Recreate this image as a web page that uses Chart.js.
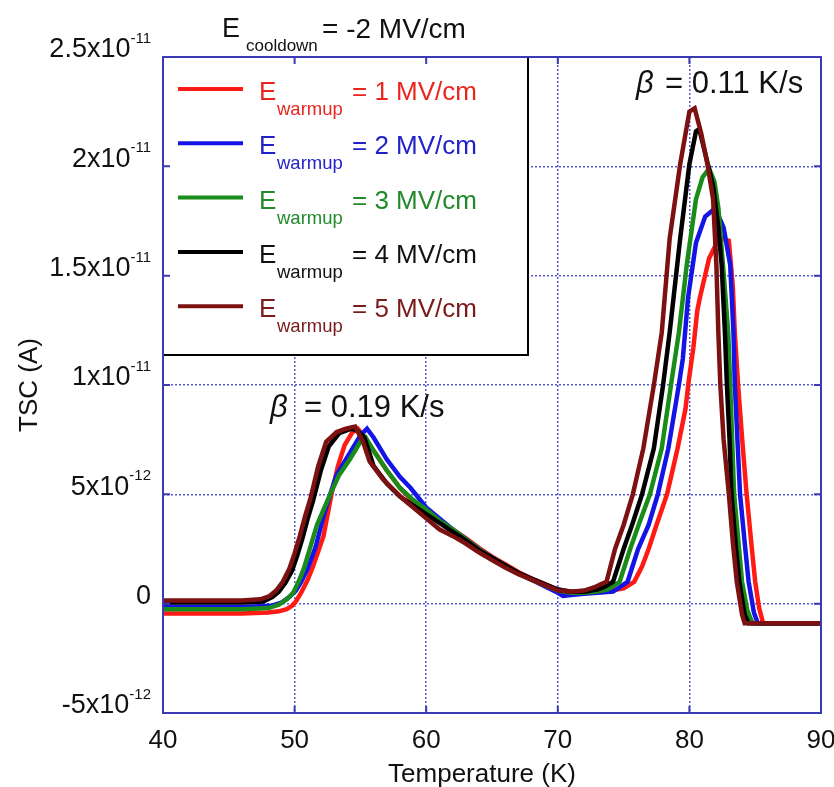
<!DOCTYPE html>
<html>
<head>
<meta charset="utf-8">
<script src="https://cdn.jsdelivr.net/npm/chart.js@4"></script>
<style>
  body { margin: 0; background: #fff; }
  canvas { display: block; }
</style>
</head>
<body>
<canvas id="tscChart" width="834" height="787"></canvas>
<script>
// TSC current in units of 1e-12 A, temperature in K
const temp1 = [40, 43, 46, 48.0, 48.8, 49.4, 49.8, 50.1, 50.5, 51.0, 51.4, 51.8, 52.2, 52.8, 53.3, 53.8, 54.4, 54.8, 55.2, 56.0, 57.0, 58.0, 58.8, 59.5, 60.0, 61.0, 62.0, 63, 64, 65, 66, 67, 68, 69, 70, 71, 72, 73, 74.0, 75.0, 75.8, 76.4, 76.9, 77.5, 78.3, 79.1, 79.7, 79.95, 80.3, 80.6, 80.8, 81.5, 82.0, 82.4, 83.0, 83.3, 83.45, 83.7, 84.0, 84.35, 84.7, 85.0, 85.3, 85.6, 86, 88, 90];
const tsc1  = [-0.45, -0.45, -0.45, -0.4, -0.35, -0.25, -0.1, 0.1, 0.5, 1.1, 1.7, 2.4, 3.1, 5.0, 6.3, 7.25, 7.85, 8.0, 7.7, 7.0, 6.1, 5.3, 4.8, 4.5, 4.25, 3.8, 3.4, 3.0, 2.55, 2.15, 1.8, 1.45, 1.15, 0.9, 0.65, 0.55, 0.5, 0.5, 0.6, 0.7, 1.0, 1.7, 2.5, 3.6, 5.0, 7.1, 8.9, 10.2, 11.7, 13.4, 14.0, 15.8, 16.4, 16.7, 16.6, 14.5, 12.4, 10.0, 7.6, 5.0, 2.8, 1.0, -0.2, -0.9, -0.9, -0.9, -0.9];

const temp2 = [40, 43, 46, 48.2, 49.0, 49.6, 50.1, 50.5, 51.0, 51.6, 52.2, 52.7, 53.2, 54.2, 55.0, 55.5, 56.0, 57.0, 58.0, 58.8, 60.0, 61.0, 62.0, 63, 64, 65, 66, 67, 68, 69, 70, 70.4, 71, 72, 73, 74.2, 75.3, 76.1, 76.9, 77.6, 78.4, 79.2, 79.5, 79.9, 80.5, 81.2, 81.8, 82.1, 82.6, 83.1, 83.35, 83.45, 83.85, 84.2, 84.5, 84.9, 85.2, 86, 88, 90];
const tsc2  = [-0.15, -0.15, -0.15, -0.1, 0.05, 0.3, 0.6, 1.0, 1.6, 2.6, 4.0, 5.0, 5.9, 6.9, 7.7, 8.0, 7.6, 6.6, 5.8, 5.3, 4.4, 3.9, 3.4, 2.95, 2.5, 2.1, 1.75, 1.4, 1.1, 0.8, 0.5, 0.35, 0.4, 0.45, 0.5, 0.55, 1.0, 2.5, 3.6, 5.0, 7.1, 10.0, 11.2, 14.0, 16.5, 17.7, 18.0, 17.9, 17.2, 15.5, 12.4, 10.0, 5.0, 2.8, 1.0, -0.4, -0.9, -0.9, -0.9, -0.9];

const temp3 = [40, 43, 46, 48.0, 48.8, 49.4, 49.9, 50.3, 50.7, 51.2, 51.7, 52.2, 52.7, 53.4, 54.2, 55.0, 55.4, 56.0, 57.0, 58.0, 59.0, 60.0, 61.0, 62.0, 63, 64, 65, 66, 67, 68, 69, 70, 71, 72, 73, 73.8, 74.7, 75.5, 76.2, 77.0, 77.9, 78.6, 78.9, 79.2, 79.8, 80.5, 81.0, 81.5, 81.9, 82.2, 82.55, 82.95, 83.1, 83.4, 83.7, 84.0, 84.4, 84.8, 86, 88, 90];
const tsc3  = [-0.25, -0.25, -0.25, -0.2, -0.05, 0.2, 0.5, 1.0, 1.6, 2.6, 3.6, 4.3, 5.0, 5.9, 6.6, 7.4, 7.6, 7.0, 6.1, 5.3, 4.75, 4.3, 3.8, 3.4, 2.95, 2.5, 2.1, 1.75, 1.4, 1.1, 0.85, 0.6, 0.5, 0.5, 0.55, 0.65, 1.0, 2.5, 3.7, 5.0, 7.1, 10.0, 11.2, 12.4, 15.5, 18.5, 19.5, 19.9, 19.3, 18.1, 15.5, 12.4, 10.0, 5.0, 3.0, 1.0, -0.3, -0.9, -0.9, -0.9, -0.9];

const temp4 = [40, 43, 46, 47.6, 48.3, 48.8, 49.3, 49.8, 50.2, 50.6, 51.0, 51.4, 52.0, 52.6, 53.4, 54.3, 54.8, 55.3, 56.0, 57.0, 58.0, 60.0, 62.0, 63, 64, 65, 66, 67, 68, 69, 70, 71, 72, 73.0, 73.5, 74.2, 75.0, 75.7, 76.4, 77.3, 78.0, 78.5, 79.3, 80.0, 80.5, 80.75, 81.2, 81.8, 82.2, 82.45, 82.7, 82.85, 83.05, 83.2, 83.5, 83.8, 84.2, 84.5, 86, 88, 90];
const tsc4  = [0.05, 0.05, 0.05, 0.1, 0.3, 0.55, 0.95, 1.5, 2.2, 3.0, 3.9, 4.7, 6.1, 7.2, 7.8, 8.0, 7.9, 7.6, 6.3, 5.5, 4.9, 4.1, 3.3, 2.9, 2.45, 2.1, 1.75, 1.4, 1.15, 0.9, 0.65, 0.55, 0.55, 0.65, 0.75, 1.0, 2.5, 3.7, 5.0, 7.1, 10.0, 12.4, 16.7, 20.1, 21.6, 21.7, 20.6, 19.1, 17.2, 15.5, 12.4, 10.0, 7.5, 5.0, 2.8, 1.0, -0.5, -0.9, -0.9, -0.9, -0.9];

const temp5 = [40, 43, 46, 47.4, 48.1, 48.6, 49.1, 49.6, 50.0, 50.4, 50.8, 51.2, 51.8, 52.4, 53.2, 53.9, 54.6, 55.2, 55.7, 56.7, 58.2, 60.0, 61.0, 62.0, 63.0, 64.0, 65.0, 66.0, 67.0, 68.0, 69.0, 70.0, 71.0, 72.0, 72.8, 73.3, 73.7, 74.35, 75.0, 75.7, 76.5, 77.3, 77.9, 78.5, 79.3, 80.0, 80.4, 80.9, 81.4, 81.8, 82.05, 82.2, 82.35, 82.6, 83.0, 83.3, 83.6, 84.0, 84.2, 86, 88, 90];
const tsc5  = [0.15, 0.15, 0.15, 0.2, 0.35, 0.6, 1.0, 1.6, 2.3, 3.1, 4.0, 4.8, 6.3, 7.4, 7.85, 8.0, 8.1, 7.4, 6.5, 5.7, 4.8, 3.9, 3.4, 3.1, 2.75, 2.35, 2.0, 1.65, 1.35, 1.1, 0.85, 0.6, 0.55, 0.6, 0.75, 0.9, 1.0, 2.5, 3.6, 5.0, 7.1, 10.0, 12.4, 16.7, 20.1, 22.5, 22.65, 21.5, 20.0, 18.5, 15.5, 12.4, 10.0, 7.5, 5.0, 2.8, 1.0, -0.5, -0.9, -0.9, -0.9, -0.9];

const warmupFields = ['1', '2', '3', '4', '5'];
const lineColors = ['#ff1a14', '#1414e6', '#1a8c1a', '#000000', '#7d1010'];
const textColors = ['#e8261e', '#2222c8', '#218a2a', '#111111', '#7a1a1a'];

const tempTicks = [40, 50, 60, 70, 80, 90];
const tscTicks = [-5, 0, 5, 10, 15, 20, 25];
const tscTickBase = ['-5x10', '0', '5x10', '1x10', '1.5x10', '2x10', '2.5x10'];
const tscTickExp = ['-12', '', '-12', '-11', '-11', '-11', '-11'];

const FONT = '"Liberation Sans", Arial, sans-serif';
const AXIS_BLUE = '#3a3ab4';

const allTemps = [temp1, temp2, temp3, temp4, temp5];
const allTsc = [tsc1, tsc2, tsc3, tsc4, tsc5];

const datasets = allTemps.map((temps, i) => ({
    label: 'E warmup = ' + warmupFields[i] + ' MV/cm',
    data: temps.map((t, j) => ({ x: t, y: allTsc[i][j] })),
    borderColor: lineColors[i],
    borderWidth: 4.5,
    pointRadius: 0,
    tension: 0,
    fill: false,
    order: 5 - i   // 5 MV/cm drawn on top
}));

function drawText(ctx, str, x, y, size, color, align, style) {
    ctx.font = (style || '') + ' ' + size + 'px ' + FONT;
    ctx.fillStyle = color;
    ctx.textAlign = align || 'left';
    ctx.textBaseline = 'middle';
    ctx.fillText(str, x, y);
}

const overlay = {
    id: 'overlay',
    afterDatasetsDraw(chart) {
        const ctx = chart.ctx;
        const area = chart.chartArea;
        // legend box
        const lx = area.left, ly = area.top, lw = 365, lh = 298;
        ctx.save();
        ctx.fillStyle = '#fff';
        ctx.fillRect(lx, ly, lw, lh);
        ctx.strokeStyle = '#000';
        ctx.lineWidth = 2;
        ctx.beginPath();
        ctx.moveTo(lx + lw, ly);
        ctx.lineTo(lx + lw, ly + lh);
        ctx.lineTo(lx, ly + lh);
        ctx.stroke();
        for (let i = 0; i < warmupFields.length; i++) {
            const y = 89 + i * 54.3;
            ctx.strokeStyle = lineColors[i];
            ctx.lineWidth = 4;
            ctx.beginPath();
            ctx.moveTo(178, y);
            ctx.lineTo(243, y);
            ctx.stroke();
            drawText(ctx, 'E', 259, y + 4, 26, textColors[i]);
            drawText(ctx, 'warmup', 277, y + 21, 18.5, textColors[i]);
            drawText(ctx, '= ' + warmupFields[i] + ' MV/cm', 352, y + 4, 26, textColors[i]);
        }
        ctx.restore();
    },
    afterDraw(chart) {
        const ctx = chart.ctx;
        const area = chart.chartArea;
        const xs = chart.scales.x, ys = chart.scales.y;
        ctx.save();
        // axes frame
        ctx.strokeStyle = AXIS_BLUE;
        ctx.lineWidth = 2;
        ctx.strokeRect(area.left, area.top, area.right - area.left, area.bottom - area.top);
        // inward tick marks
        tempTicks.forEach(t => {
            const x = xs.getPixelForValue(t);
            ctx.beginPath();
            ctx.moveTo(x, area.bottom); ctx.lineTo(x, area.bottom - 7);
            ctx.moveTo(x, area.top); ctx.lineTo(x, area.top + 7);
            ctx.stroke();
        });
        tscTicks.forEach(v => {
            const y = ys.getPixelForValue(v);
            ctx.beginPath();
            ctx.moveTo(area.left, y); ctx.lineTo(area.left + 7, y);
            ctx.moveTo(area.right, y); ctx.lineTo(area.right - 7, y);
            ctx.stroke();
        });
        // x tick labels
        tempTicks.forEach(t => {
            drawText(ctx, String(t), xs.getPixelForValue(t), 741, 26, '#111', 'center');
        });
        // y tick labels with exponent
        tscTicks.forEach((v, i) => {
            const y = ys.getPixelForValue(v) - 7;
            ctx.font = '15px ' + FONT;
            const ew = tscTickExp[i] ? ctx.measureText(tscTickExp[i]).width : 0;
            const right = 151;
            drawText(ctx, tscTickBase[i], right - ew, y, 27, '#111', 'right');
            if (tscTickExp[i]) drawText(ctx, tscTickExp[i], right - ew, y - 11, 15, '#111', 'left');
        });
        // axis titles
        drawText(ctx, 'Temperature (K)', 482, 775, 26, '#111', 'center');
        ctx.save();
        ctx.translate(30, 385);
        ctx.rotate(-Math.PI / 2);
        drawText(ctx, 'TSC (A)', 0, 0, 26, '#111', 'center');
        ctx.restore();
        // annotations
        drawText(ctx, 'E', 222, 30, 27, '#111');
        drawText(ctx, 'cooldown', 246, 46, 17, '#111');
        drawText(ctx, '= -2 MV/cm', 322, 30, 28, '#111');
        drawText(ctx, '\u03B2', 636, 84, 31, '#111', 'left', 'italic');
        drawText(ctx, '= 0.11 K/s', 665, 84, 31, '#111');
        drawText(ctx, '\u03B2', 270, 408, 31, '#111', 'left', 'italic');
        drawText(ctx, '= 0.19 K/s', 304, 408, 31, '#111');
        ctx.restore();
    }
};

new Chart(document.getElementById('tscChart').getContext('2d'), {
    type: 'line',
    data: { datasets },
    options: {
        responsive: false,
        animation: false,
        layout: { padding: { left: 0, top: 57, right: 13, bottom: 0 } },
        plugins: { legend: { display: false }, tooltip: { enabled: false } },
        scales: {
            x: {
                type: 'linear', min: 40, max: 90,
                afterBuildTicks: s => { s.ticks = tempTicks.map(v => ({ value: v })); },
                afterFit: s => { s.height = 74; },
                ticks: { display: false },
                grid: { color: '#5a5ad2', lineWidth: 1.5, drawTicks: false },
                border: { display: false, dash: [2, 2] }
            },
            y: {
                type: 'linear', min: -5, max: 25,
                afterBuildTicks: s => { s.ticks = tscTicks.map(v => ({ value: v })); },
                afterFit: s => { s.width = 163; },
                ticks: { display: false },
                grid: { color: '#5a5ad2', lineWidth: 1.5, drawTicks: false },
                border: { display: false, dash: [2, 2] }
            }
        }
    },
    plugins: [overlay]
});
</script>
</body>
</html>
